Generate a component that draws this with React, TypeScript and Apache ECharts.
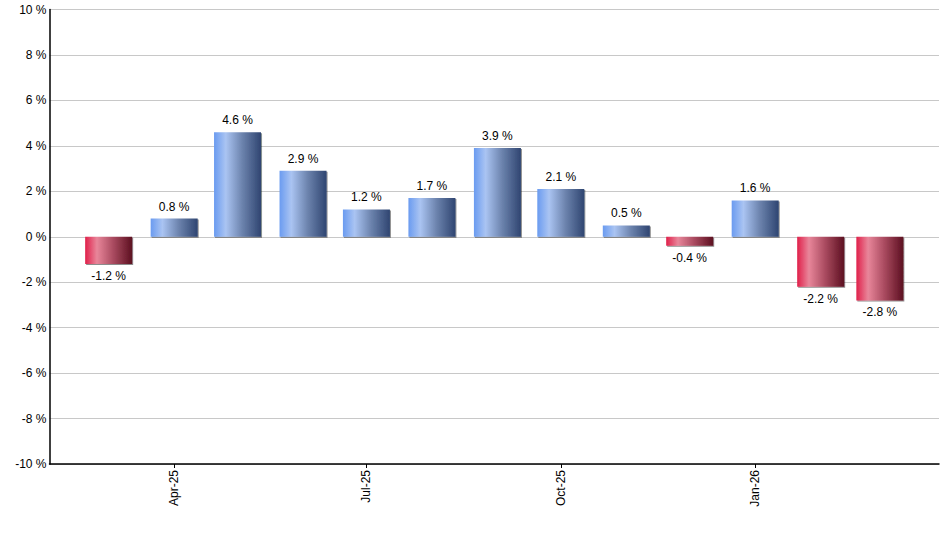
import React, { useRef, useEffect } from 'react';
import * as echarts from 'echarts';

// monthly returns, one bar per month (first of month)
const months = [
  '2025-03-01', '2025-04-01', '2025-05-01', '2025-06-01', '2025-07-01',
  '2025-08-01', '2025-09-01', '2025-10-01', '2025-11-01', '2025-12-01',
  '2026-01-01', '2026-02-01', '2026-03-01',
];
const returns = [-1.2, 0.8, 4.6, 2.9, 1.2, 1.7, 3.9, 2.1, 0.5, -0.4, 1.6, -2.2, -2.8];
const labelMonths = ['2025-04-01', '2025-07-01', '2025-10-01', '2026-01-01'];
const monthNames = ['Jan', 'Feb', 'Mar', 'Apr', 'May', 'Jun', 'Jul', 'Aug', 'Sep', 'Oct', 'Nov', 'Dec'];

const DAY = 24 * 3600 * 1000;
const ts = (s: string) => {
  const [y, m, d] = s.split('-').map(Number);
  return Date.UTC(y, m - 1, d);
};
const fmtMonth = (val: number) => {
  const d = new Date(val);
  return monthNames[d.getUTCMonth()] + '-' + String(d.getUTCFullYear()).slice(2);
};

const FONT = '"Liberation Sans", Arial, sans-serif';

const blueFill = new echarts.graphic.LinearGradient(0, 0, 1, 0, [
  { offset: 0, color: '#6a9bf0' },
  { offset: 0.25, color: '#aac4f2' },
  { offset: 0.6, color: '#6c83ad' },
  { offset: 1, color: '#2f4571' },
]);
const redFill = new echarts.graphic.LinearGradient(0, 0, 1, 0, [
  { offset: 0, color: '#e0204a' },
  { offset: 0.25, color: '#e8869a' },
  { offset: 0.6, color: '#a94a5f' },
  { offset: 1, color: '#5c1020' },
]);

export default function App() {
  const chartRef = useRef<HTMLDivElement>(null);

  useEffect(() => {
    if (!chartRef.current) return;
    const chart = echarts.init(chartRef.current, undefined, { renderer: 'svg' });

    const data = months.map((m, i) => {
      const v = returns[i];
      return {
        value: [ts(m), v],
        itemStyle: { color: v >= 0 ? blueFill : redFill },
        label: { position: v >= 0 ? 'top' : 'bottom' },
      };
    });

    const tickVals = labelMonths.map(ts);

    chart.setOption({
      animation: false,
      grid: { left: 49.5, right: 1, top: 9.5, bottom: 86 },
      xAxis: {
        type: 'value',
        min: ts(months[0]) - 28 * DAY,
        max: ts(months[months.length - 1]) + 28 * DAY,
        axisLine: { show: true, onZero: false, lineStyle: { color: '#000', width: 1.5 } },
        axisTick: {
          show: true,
          length: 4,
          lineStyle: { color: '#000', width: 1 },
          customValues: tickVals,
        },
        axisLabel: {
          rotate: 90,
          margin: 6,
          color: '#000',
          fontSize: 12,
          fontFamily: FONT,
          customValues: tickVals,
          formatter: (val: number) => fmtMonth(val),
        },
        splitLine: { show: false },
      },
      yAxis: {
        type: 'value',
        min: -10,
        max: 10,
        interval: 2,
        axisLine: { show: true, lineStyle: { color: '#000', width: 1.5 } },
        axisTick: { show: false },
        axisLabel: {
          margin: 3,
          color: '#000',
          fontSize: 12,
          fontFamily: FONT,
          formatter: '{value} %',
        },
        splitLine: { show: true, lineStyle: { color: '#c8c8c8', width: 1 } },
      },
      series: [
        {
          type: 'bar',
          barWidth: 47,
          data,
          itemStyle: {
            shadowColor: 'rgba(0,0,0,0.45)',
            shadowOffsetX: 1,
            shadowOffsetY: 1,
            shadowBlur: 0,
          },
          label: {
            show: true,
            distance: 6,
            color: '#000',
            fontSize: 12,
            fontFamily: FONT,
            formatter: (p: any) => p.value[1].toFixed(1) + ' %',
          },
        },
      ],
    });

    return () => {
      chart.dispose();
    };
  }, []);

  return (
    <div
      ref={chartRef}
      style={{ position: 'absolute', left: 0, top: 0, width: 940, height: 550 }}
    />
  );
}
